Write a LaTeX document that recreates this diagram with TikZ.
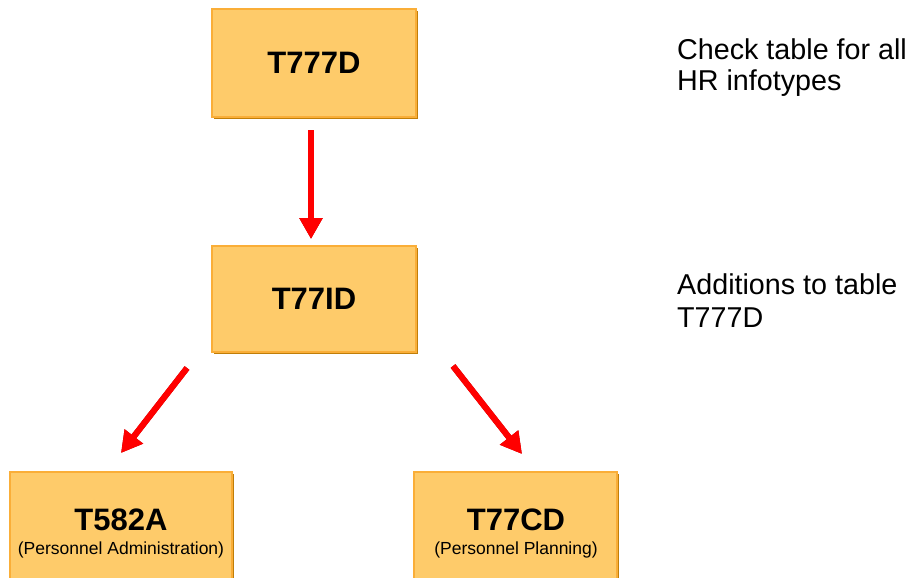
\documentclass[tikz,border=0pt]{standalone}
\usepackage{fontspec}
\setmainfont{Liberation Sans}
\usetikzlibrary{arrows.meta,shadows}

\definecolor{boxfill}{HTML}{FECB6A}
\definecolor{boxedge}{HTML}{FAAE38}
\definecolor{boxshade}{HTML}{C07E08}
\definecolor{arrred}{HTML}{FF0000}
\definecolor{arrdark}{HTML}{B00000}

\tikzset{
  tablebox/.style={rectangle, fill=boxfill, draw=boxedge, line width=1.4pt,
    inner sep=0pt, font=\fontsize{31}{31}\selectfont\bfseries,
    drop shadow={shadow xshift=2.2pt, shadow yshift=-2.2pt, opacity=1, fill=boxshade}},
  boxtitle/.style={anchor=base, inner sep=0pt, font=\fontsize{31}{31}\selectfont\bfseries},
  boxsub/.style={anchor=base, inner sep=0pt, font=\fontsize{17.5}{20}\selectfont},
  note/.style={anchor=base west, inner sep=0pt, align=left},
  redarrow/.style={line width=6pt, draw=arrred,
    -{Triangle[width=22pt,length=21pt]}, fill=arrred},
  redshade/.style={line width=6pt, draw=arrdark,
    -{Triangle[width=22pt,length=21pt]}, fill=arrdark},
}

\begin{document}
\begin{tikzpicture}[x=1pt,y=-1pt]
  \useasboundingbox (0,0) rectangle (910,578);

  % table boxes
  \node[tablebox, minimum width=204pt, minimum height=108pt] (t777d) at (314,63) {T777D};
  \node[tablebox, minimum width=204pt, minimum height=106pt] (t77id) at (314,299) {T77ID};
  \node[tablebox, minimum width=222pt, minimum height=126pt] (t582a) at (121,535) {};
  \node[tablebox, minimum width=203pt, minimum height=126pt] (t77cd) at (515.5,535) {};

  \node[boxtitle] (t582aname) at (121,530) {T582A};
  \node[boxsub]   (t582asub)  at (121,554) {(Personnel Administration)};
  \node[boxtitle] (t77cdname) at (516,530) {T77CD};
  \node[boxsub]   (t77cdsub)  at (516,554) {(Personnel Planning)};

  % arrow end points
  \coordinate (a1s) at (311,130);
  \coordinate (a1e) at (311,239);
  \coordinate (a2s) at (187,368);
  \coordinate (a2e) at (121,453);
  \coordinate (a3s) at (453,366);
  \coordinate (a3e) at (522,454);

  % dark shading behind each arrow
  \begin{scope}[shift={(1.6,1.2)}]
    \draw[redshade] (a1s) -- (a1e);
    \draw[redshade] (a2s) -- (a2e);
    \draw[redshade] (a3s) -- (a3e);
  \end{scope}
  \draw[redarrow] (a1s) -- (a1e);
  \draw[redarrow] (a2s) -- (a2e);
  \draw[redarrow] (a3s) -- (a3e);

  % side notes (base anchor sits on the last line)
  \node[note, font=\fontsize{28.7}{31}\selectfont] (note1) at (677,90)
    {Check table for all\\HR infotypes};
  \node[note, font=\fontsize{28.7}{33}\selectfont] (note2) at (677,327)
    {Additions to table\\T777D};
\end{tikzpicture}
\end{document}
